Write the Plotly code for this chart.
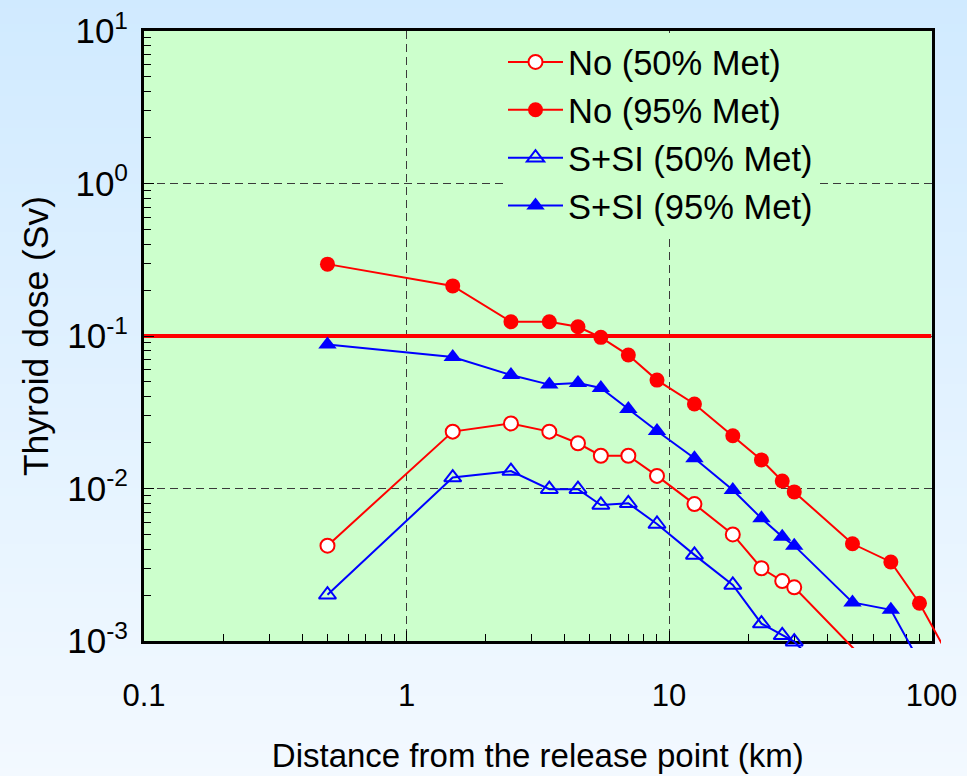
import plotly.graph_objects as go

# Distances (km) and thyroid doses (Sv) for each case
no_50_km = [0.5, 1.5, 2.5, 3.5, 4.5, 5.5, 7, 9, 12.5, 17.5, 22.5, 27, 30, 70]
no_50_sv = [0.00422, 0.0236, 0.0267, 0.0236, 0.0198, 0.0164, 0.0164, 0.0121,
            0.0079, 0.0050, 0.0030, 0.00247, 0.00225, 0.0005]

no_95_km = [0.5, 1.5, 2.5, 3.5, 4.5, 5.5, 7, 9, 12.5, 17.5, 22.5, 27, 30, 50, 70, 90, 120]
no_95_sv = [0.296, 0.213, 0.124, 0.124, 0.115, 0.098, 0.075, 0.0514, 0.0358,
            0.0222, 0.0154, 0.0112, 0.0095, 0.00434, 0.0033, 0.00177, 0.00072]

ssi_50_km = [0.5, 1.5, 2.5, 3.5, 4.5, 5.5, 7, 9, 12.5, 17.5, 22.5, 27, 30, 50]
ssi_50_sv = [0.00201, 0.0118, 0.0130, 0.0099, 0.0099, 0.0078, 0.0080, 0.00585,
             0.00367, 0.00233, 0.0013, 0.00109, 0.00099, 0.0004]

ssi_95_km = [0.5, 1.5, 2.5, 3.5, 4.5, 5.5, 7, 9, 12.5, 17.5, 22.5, 27, 30, 50, 70, 90]
ssi_95_sv = [0.0879, 0.0728, 0.0555, 0.048, 0.0492, 0.0456, 0.0332, 0.0238,
             0.0158, 0.00977, 0.00637, 0.00483, 0.00422, 0.00179, 0.0016, 0.00073]

threshold_sv = 0.1

x_ticks = [0.1, 1, 10, 100]
x_tick_text = ["0.1", "1", "10", "100"]
y_ticks = [1e-3, 1e-2, 1e-1, 1, 10]
y_tick_text = ["10<sup>-3</sup>", "10<sup>-2</sup>", "10<sup>-1</sup>",
               "10<sup>0</sup>", "10<sup>1</sup>"]

FONT = "Liberation Sans, Arial, sans-serif"
RED = "#ff0000"
BLUE = "#0000ff"
GREEN = "#ccffcc"

# page geometry (px)
W, H = 967, 776
ML, MT, MR, MB = 144, 31, 20, 120
PW, PH = W - ML - MR, H - MT - MB
AX_RIGHT, AX_BOTTOM = 931.5, 641      # framed axes box
CLIP_RIGHT, CLIP_BOTTOM = 941, 648    # data drawing area (lines run a little past the frame)
DEC_X = (AX_RIGHT - ML) / 3
DEC_Y = (AX_BOTTOM - MT) / 4

x_dom = [0, (AX_RIGHT - ML) / PW]
y_dom = [(MT + PH - AX_BOTTOM) / PH, 1]
x2_dom = [0, (CLIP_RIGHT - ML) / PW]
y2_dom = [(MT + PH - CLIP_BOTTOM) / PH, 1]
x2_range = [-1, 2 + (CLIP_RIGHT - AX_RIGHT) / DEC_X]
y2_range = [-3 - (CLIP_BOTTOM - AX_BOTTOM) / DEC_Y, 1]

minor_x = [m * 10 ** e for e in (-1, 0, 1) for m in range(2, 10)]
minor_y = [m * 10 ** e for e in (-3, -2, -1, 0) for m in range(2, 10)]

fig = go.Figure()

# dose limit line
fig.add_trace(go.Scatter(x=[0.1, 100], y=[threshold_sv, threshold_sv], mode="lines",
                         line=dict(color=RED, width=4), showlegend=False,
                         hoverinfo="skip", xaxis="x", yaxis="y"))

markers = [
    dict(symbol="circle", size=14, color="white", line=dict(color=RED, width=2)),
    dict(symbol="circle", size=15, color=RED),
    dict(symbol="triangle-up-open", size=15, color=BLUE, line=dict(color=BLUE, width=2)),
    dict(symbol="triangle-up", size=16, color=BLUE),
]
series = [
    ("No (50% Met)", no_50_km, no_50_sv, RED),
    ("No (95% Met)", no_95_km, no_95_sv, RED),
    ("S+SI (50% Met)", ssi_50_km, ssi_50_sv, BLUE),
    ("S+SI (95% Met)", ssi_95_km, ssi_95_sv, BLUE),
]
for (name, xs, ys, col), mk in zip(series, markers):
    fig.add_trace(go.Scatter(x=xs, y=ys, name=name, mode="lines+markers",
                             line=dict(color=col, width=2), marker=mk,
                             xaxis="x2", yaxis="y2"))

# vertical paper gradient
shapes = []
top_c = (208, 234, 255)
bot_c = (243, 249, 255)
step = 8
for r in range(0, H, step):
    t = (r + step / 2) / H
    c = tuple(round(a + (b - a) * t) for a, b in zip(top_c, bot_c))
    shapes.append(dict(type="rect", xref="paper", yref="paper", layer="below",
                       x0=-ML / PW - 0.01, x1=(W - ML) / PW + 0.01,
                       y0=(MT + PH - (r + step + 1)) / PH, y1=(MT + PH - r) / PH,
                       fillcolor="rgb(%d,%d,%d)" % c, line=dict(width=0)))
shapes.append(dict(type="rect", xref="x domain", yref="y domain", layer="below",
                   x0=0, x1=1, y0=0, y1=1, fillcolor=GREEN, line=dict(width=0)))

axis_common = dict(type="log", showline=True, linewidth=3, linecolor="black",
                   mirror=True, ticks="inside", tickcolor="black", tickwidth=1,
                   ticklen=10, showgrid=True, gridcolor="#3a3a3a", gridwidth=1,
                   griddash="8px,5px", zeroline=False, automargin=False)

fig.update_layout(
    template="none",
    width=W, height=H,
    margin=dict(l=ML, r=MR, t=MT, b=MB, autoexpand=False),
    paper_bgcolor="rgb(225,241,255)",
    plot_bgcolor="rgba(0,0,0,0)",
    font=dict(family=FONT, color="black"),
    shapes=shapes,
    xaxis=dict(**axis_common, range=[-1, 2], domain=x_dom, anchor="y",
               tickvals=x_ticks, ticktext=x_tick_text,
               tickfont=dict(size=31), ticklabelstandoff=25,
               minor=dict(tickvals=minor_x, ticks="inside", ticklen=7,
                          tickcolor="black", tickwidth=1, showgrid=False),
               title=dict(text="Distance from the release point (km)",
                          font=dict(size=33), standoff=32)),
    yaxis=dict(**axis_common, range=[-3, 1], domain=y_dom, anchor="x",
               tickvals=y_ticks, ticktext=y_tick_text,
               tickfont=dict(size=35), ticklabelstandoff=6,
               minor=dict(tickvals=minor_y, ticks="inside", ticklen=7,
                          tickcolor="black", tickwidth=1, showgrid=False),
               title=dict(text="Thyroid dose (Sv)", font=dict(size=35.5), standoff=8)),
    xaxis3=dict(type="log", range=[-1, 2], domain=x_dom, overlaying="x",
                anchor="y", side="top", tickvals=[1, 10], ticks="inside",
                ticklen=5, tickcolor="black", tickwidth=1, showticklabels=False,
                showgrid=False, showline=False, zeroline=False, automargin=False),
    # data layer: same scale as the framed axes, slightly larger drawing area
    xaxis2=dict(type="log", range=x2_range, domain=x2_dom, anchor="y2",
                visible=False),
    yaxis2=dict(type="log", range=y2_range, domain=y2_dom, anchor="x2",
                visible=False),
    legend=dict(x=(503 - ML) / PW, y=(MT + PH - 33) / PH, xanchor="left",
                yanchor="top", bgcolor=GREEN, borderwidth=0,
                font=dict(size=34.5), itemwidth=55, tracegroupgap=0,
                entrywidth=300, entrywidthmode="pixels"),
    showlegend=True,
)

fig.write_html("out.html")
